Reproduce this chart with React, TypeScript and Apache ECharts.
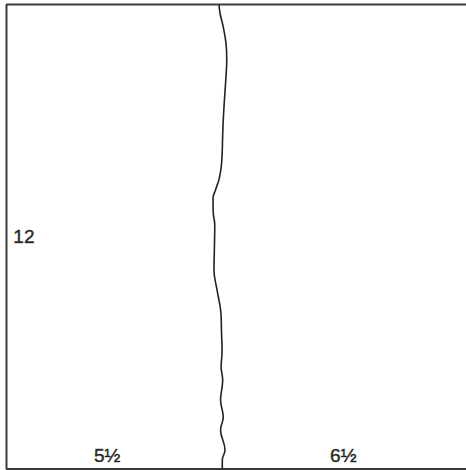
import React, { useEffect, useRef } from "react";
import * as echarts from "echarts";

// Board dimensions (inches)
const boardWidth = 12;
const boardHeight = 12;

// Wavy cut line: heights (inches from bottom) and horizontal positions (inches from left)
const cutY = [12.0, 11.78, 11.42, 11.0, 10.57, 10.13, 9.53, 9.02, 8.63, 7.93, 7.52, 7.21, 7.0, 6.64, 6.3, 5.66, 5.14, 4.62, 4.03, 3.51, 3.07, 2.63, 2.3, 1.78, 1.34, 1.01, 0.49, 0.23, 0];
const cutX = [5.49, 5.515, 5.6, 5.67, 5.69, 5.67, 5.63, 5.6, 5.585, 5.56, 5.5, 5.4, 5.335, 5.34, 5.38, 5.37, 5.36, 5.44, 5.54, 5.555, 5.57, 5.545, 5.585, 5.53, 5.6, 5.53, 5.645, 5.575, 5.575];

// Dimension labels
const labelTexts = ["12", "5½", "6½"];
const labelX = [0.45, 2.6, 8.7];
const labelY = [6.0, 0.36, 0.36];

export default function App() {
  const ref = useRef<HTMLDivElement>(null);

  useEffect(() => {
    if (!ref.current) return;
    const chart = echarts.init(ref.current, undefined, { renderer: "svg" });
    // The right edge of the board falls outside the picture, so draw top, left and bottom edges
    const boxData = [
      [boardWidth + 0.5, boardHeight],
      [0, boardHeight],
      [0, 0],
      [boardWidth + 0.5, 0],
    ];
    const cutData = cutY.map((y, i) => [cutX[i], y]);
    const labelData = labelTexts.map((t, i) => ({ value: [labelX[i], labelY[i]], name: t }));
    chart.setOption({
      animation: false,
      backgroundColor: "#ffffff",
      grid: {
        left: 6.5,
        top: 4.5,
        width: 464.5,
        height: 464.5,
        containLabel: false,
        outerBoundsMode: "none",
      },
      xAxis: { type: "value", min: 0, max: boardWidth, show: false },
      yAxis: { type: "value", min: 0, max: boardHeight, show: false },
      series: [
        {
          type: "line",
          data: boxData,
          symbol: "none",
          clip: false,
          lineStyle: { color: "#3a3a3a", width: 2 },
          silent: true,
        },
        {
          type: "line",
          data: cutData,
          symbol: "none",
          smooth: 0.4,
          clip: false,
          lineStyle: { color: "#222222", width: 1.6 },
          silent: true,
        },
        {
          type: "scatter",
          data: labelData,
          symbolSize: 0,
          clip: false,
          label: {
            show: true,
            position: "inside",
            formatter: (p: any) => p.name,
            color: "#000000",
            fontSize: 19,
            fontFamily: "Liberation Sans, Arial, sans-serif",
            textBorderColor: "#000000",
            textBorderWidth: 0.5,
          },
          silent: true,
        },
      ],
    });
    return () => chart.dispose();
  }, []);

  return (
    <div style={{ position: "absolute", left: 0, top: 0, width: 466, height: 470, overflow: "hidden" }}>
      <div ref={ref} style={{ width: 490, height: 490, background: "#fff" }} />
    </div>
  );
}
